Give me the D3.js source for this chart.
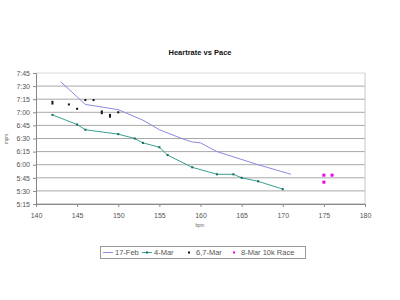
<!DOCTYPE html>
<html><head><meta charset="utf-8">
<script src="https://cdn.jsdelivr.net/npm/d3@7"></script>
<style>body{margin:0;background:#fff}svg{display:block}text{font-family:"Liberation Sans",Arial,sans-serif}</style>
</head><body><svg id="c" width="400" height="300"></svg>
<script>
// pace values in seconds per mile
const feb17 = [[143,455],[146,429],[150,423],[153,411],[155,400],[158,389],[159,386],[160,385],[162,375],[167,360],[171,349]];
const mar4 = [[142,417],[145,406],[146,400],[150,395],[152,390],[153,385],[155,380],[156,371],[159,357],[162,349],[164,349],[165,345],[167,341],[170,332]];
const mar67 = [[142,432],[142,430],[144,429],[145,424],[146,434],[147,434],[148,421],[148,419],[149,417],[149,415],[150,420]];
const mar8 = [[175,348],[176,348],[175,340]];
const xTicks = [140,145,150,155,160,165,170,175,180];
const yTicks = [315,330,345,360,375,390,405,420,435,450,465];
const seriesNames = ["17-Feb","4-Mar","6,7-Mar","8-Mar 10k Race"];

const svg = d3.select("#c");
const L=36, R=365, T=73, B=204;
const x = d3.scaleLinear().domain([140,180]).range([L,R]);
const y = d3.scaleLinear().domain([315,465]).range([B,T]);
const fmt = s => Math.floor(s/60)+":"+String(s%60).padStart(2,"0");

svg.append("text").attr("x",200).attr("y",55).attr("text-anchor","middle")
  .attr("font-size",7.5).attr("font-weight","bold").attr("fill","#111").text("Heartrate vs Pace");

// grid
svg.append("g").selectAll("line").data(yTicks).join("line")
  .attr("x1",L).attr("x2",R).attr("y1",d=>y(d)).attr("y2",d=>y(d))
  .attr("stroke",d=>d===465?"#d8d8d8":"#a8a8a8").attr("stroke-width",1);
svg.append("line").attr("x1",R).attr("x2",R).attr("y1",T).attr("y2",B).attr("stroke","#c8c8c8");

const ax = svg.append("g").attr("transform",`translate(0,${B})`)
  .call(d3.axisBottom(x).tickValues(xTicks).tickSize(3).tickPadding(6));
const ay = svg.append("g").attr("transform",`translate(${L},0)`)
  .call(d3.axisLeft(y).tickValues(yTicks).tickFormat(fmt).tickSize(3).tickPadding(3));
[ax,ay].forEach(g=>{
  g.selectAll("path,line").attr("stroke","#888");
  g.selectAll("text").attr("font-size",7).attr("fill","#555").attr("font-family","Liberation Sans,Arial,sans-serif");
});

svg.append("text").attr("x",200).attr("y",227).attr("text-anchor","middle").attr("font-size",4.5).attr("fill","#666").text("bpm");
svg.append("text").attr("transform","translate(8,139) rotate(-90)").attr("text-anchor","middle").attr("font-size",4.5).attr("fill","#666").text("mpm");

const line = d3.line().x(d=>x(d[0])).y(d=>y(d[1]));
svg.append("path").datum(feb17).attr("d",line).attr("fill","none").attr("stroke","#8a8ae0").attr("stroke-width",1);
svg.append("path").datum(mar4).attr("d",line).attr("fill","none").attr("stroke","#3a9e90").attr("stroke-width",1);
svg.append("g").selectAll("rect").data(mar4).join("rect")
  .attr("x",d=>x(d[0])-1).attr("y",d=>y(d[1])-1).attr("width",2).attr("height",2).attr("fill","#0b6b5e");
svg.append("g").selectAll("rect").data(mar67).join("rect")
  .attr("x",d=>x(d[0])-1).attr("y",d=>y(d[1])-1).attr("width",2).attr("height",2).attr("fill","#111");
svg.append("g").selectAll("rect").data(mar8).join("rect")
  .attr("x",d=>x(d[0])-1.5).attr("y",d=>y(d[1])-1.5).attr("width",3).attr("height",3).attr("fill","#ee00ee");

// legend
const lg = svg.append("g");
lg.append("rect").attr("x",100.5).attr("y",246.5).attr("width",205).attr("height",12).attr("fill","#fff").attr("stroke","#999");
const items = [
  {n:seriesNames[0], x:103, type:"line", c:"#8a8ae0"},
  {n:seriesNames[1], x:142, type:"linem", c:"#3a9e90"},
  {n:seriesNames[2], x:184, type:"dot", c:"#111"},
  {n:seriesNames[3], x:229, type:"dot", c:"#ee00ee"}
];
items.forEach(it=>{
  const cy=252.5;
  if(it.type!=="dot"){
    lg.append("line").attr("x1",it.x).attr("x2",it.x+10).attr("y1",cy).attr("y2",cy).attr("stroke",it.c);
    if(it.type==="linem") lg.append("rect").attr("x",it.x+4).attr("y",cy-1).attr("width",2).attr("height",2).attr("fill","#0b6b5e");
  } else {
    lg.append("rect").attr("x",it.x+4).attr("y",cy-1).attr("width",2).attr("height",2).attr("fill",it.c);
  }
  lg.append("text").attr("x",it.x+12).attr("y",cy+2.6).attr("font-size",7.5).attr("fill","#555").text(it.n);
});
</script></body></html>
